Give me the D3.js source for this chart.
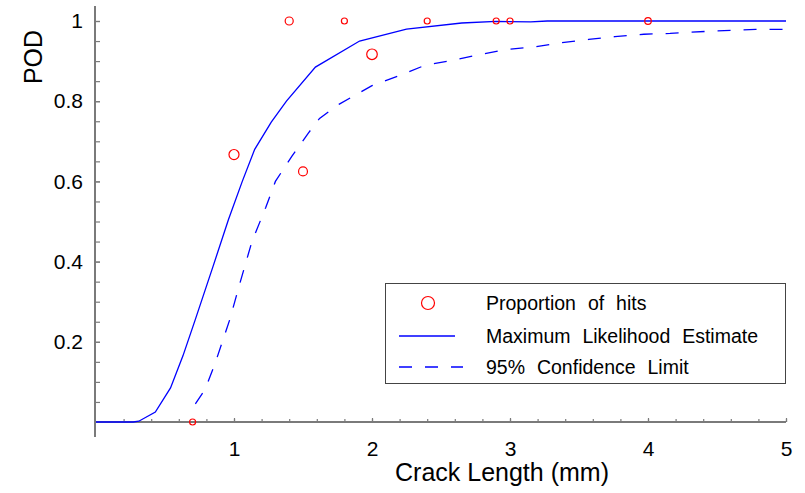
<!DOCTYPE html>
<html>
<head>
<meta charset="utf-8">
<script src="https://cdn.jsdelivr.net/npm/d3@7"></script>
<style>
  body { margin: 0; background: #fff; }
  svg { display: block; font-family: Arial, "Liberation Sans", sans-serif; }
</style>
</head>
<body>
<div id="chart"></div>
<script>
// observed proportion of hits per crack length
var hitLength = [0.7, 1.0, 1.4, 1.5, 1.8, 2.0, 2.4, 2.9, 3.0, 4.0];
var hitProportion = [0, 0.667, 1, 0.625, 1, 0.917, 1, 1, 1, 1];
var hitWeight = [1, 2.8, 1.8, 2.2, 1, 3.1, 1, 1, 1, 1.2];

// maximum likelihood POD curve
var mleLength = [0, 0.27, 0.31, 0.43, 0.54, 0.63, 0.72, 0.85, 0.96, 1.06, 1.15, 1.27, 1.38, 1.59, 1.91, 2.25, 2.65, 2.9, 3.15, 3.27, 5];
var mlePod = [0, 0, 0.002, 0.025, 0.085, 0.165, 0.256, 0.39, 0.505, 0.6, 0.68, 0.748, 0.8, 0.885, 0.95, 0.98, 0.995, 0.999, 0.998, 1, 1];

// 95% lower confidence bound
var confLength = [0.72, 0.79, 0.86, 0.97, 1.04, 1.13, 1.23, 1.3, 1.42, 1.54, 1.62, 1.76, 2.0, 2.2, 2.38, 2.58, 2.78, 2.97, 3.17, 3.37, 3.57, 3.76, 3.97, 4.16, 4.47, 4.78, 5.0];
var confPod = [0.045, 0.081, 0.143, 0.256, 0.343, 0.45, 0.535, 0.6, 0.663, 0.721, 0.757, 0.792, 0.839, 0.864, 0.889, 0.902, 0.916, 0.929, 0.935, 0.946, 0.954, 0.961, 0.967, 0.969, 0.975, 0.979, 0.979];

var xTickValues = [1, 2, 3, 4, 5];
var xTickLabels = ["1", "2", "3", "4", "5"];
var yTickValues = [0.2, 0.4, 0.6, 0.8, 1];
var yTickLabels = ["0.2", "0.4", "0.6", "0.8", "1"];
var legendLabels = ["Proportion of hits", "Maximum Likelihood Estimate", "95% Confidence Limit"];

var width = 805, height = 493;
var axisColor = "#7a7a7a";

var svg = d3.select("#chart").append("svg")
    .attr("width", width)
    .attr("height", height);

var x = d3.scaleLinear().domain([0, 5]).range([96, 786]);
var y = d3.scaleLinear().domain([0, 1]).range([422, 21]);
var r = d3.scaleSqrt().domain([0, 1]).range([0, 3]);

// minor ticks
svg.append("g")
    .attr("transform", "translate(95,0)")
    .call(d3.axisLeft(y).tickValues(d3.range(0.05, 1.001, 0.05)).tickSize(-5).tickFormat(""))
    .call(g => g.select(".domain").remove())
    .call(g => g.selectAll("line").attr("stroke", axisColor).attr("stroke-width", 1.2));

svg.append("g")
    .attr("transform", `translate(0,${y(0)})`)
    .call(d3.axisBottom(x).tickValues(d3.range(0.2, 5.001, 0.2)).tickSize(-3).tickFormat(""))
    .call(g => g.select(".domain").remove())
    .call(g => g.selectAll("line").attr("stroke", axisColor).attr("stroke-width", 1.2));

// labelled ticks
var yAxis = svg.append("g")
    .attr("transform", "translate(95,0)")
    .call(d3.axisLeft(y).tickValues(yTickValues).tickSize(-5).tickPadding(12)
        .tickFormat((d, i) => yTickLabels[i]));
yAxis.select(".domain").remove();
yAxis.selectAll("line").attr("stroke", axisColor).attr("stroke-width", 1.2);
yAxis.selectAll("text").attr("font-size", 21).attr("fill", "#000")
    .attr("font-family", "Arial, 'Liberation Sans', sans-serif");

var xAxis = svg.append("g")
    .attr("transform", `translate(0,${y(0)})`)
    .call(d3.axisBottom(x).tickValues(xTickValues).tickSize(-4).tickPadding(19)
        .tickFormat((d, i) => xTickLabels[i]));
xAxis.select(".domain").remove();
xAxis.selectAll("line").attr("stroke", axisColor).attr("stroke-width", 1.2);
xAxis.selectAll("text").attr("font-size", 21).attr("fill", "#000")
    .attr("font-family", "Arial, 'Liberation Sans', sans-serif");

// axis lines
svg.append("line")
    .attr("x1", 95).attr("x2", 95).attr("y1", 6).attr("y2", 437)
    .attr("stroke", axisColor).attr("stroke-width", 2);
svg.append("line")
    .attr("x1", 95).attr("x2", x(5)).attr("y1", y(0)).attr("y2", y(0))
    .attr("stroke", axisColor).attr("stroke-width", 2);

// axis titles
svg.append("text")
    .attr("x", 502).attr("y", 481)
    .attr("text-anchor", "middle")
    .attr("font-size", 25)
    .text("Crack Length (mm)");

svg.append("text")
    .attr("transform", "translate(42,57) rotate(-90)")
    .attr("text-anchor", "middle")
    .attr("font-size", 25)
    .text("POD");

// curves
var line = d3.line().x(d => x(d[0])).y(d => y(d[1]));

svg.append("path")
    .datum(mleLength.map((v, i) => [v, mlePod[i]]))
    .attr("d", line)
    .attr("fill", "none")
    .attr("stroke", "#0000ff")
    .attr("stroke-width", 1.3);

svg.append("path")
    .datum(confLength.map((v, i) => [v, confPod[i]]))
    .attr("d", line)
    .attr("fill", "none")
    .attr("stroke", "#0000ff")
    .attr("stroke-width", 1.3)
    .attr("stroke-dasharray", "13,13");

// observed points
svg.selectAll(".hit")
    .data(hitLength.map((v, i) => ({ len: v, pod: hitProportion[i], w: hitWeight[i] })))
    .enter()
    .append("circle")
    .attr("class", "hit")
    .attr("cx", d => x(d.len))
    .attr("cy", d => y(d.pod))
    .attr("r", d => r(d.w))
    .attr("fill", "none")
    .attr("stroke", "#ff0000")
    .attr("stroke-width", 1.2);

// legend
var legend = svg.append("g");
legend.append("rect")
    .attr("x", 385.5).attr("y", 283.5)
    .attr("width", 400).attr("height", 100)
    .attr("fill", "#fff")
    .attr("stroke", "#444")
    .attr("stroke-width", 1);

var rowY = [303, 336, 367];
legend.append("circle")
    .attr("cx", 428).attr("cy", rowY[0]).attr("r", 6.5)
    .attr("fill", "none").attr("stroke", "#ff0000").attr("stroke-width", 1.2);
legend.append("line")
    .attr("x1", 399).attr("x2", 455).attr("y1", rowY[1]).attr("y2", rowY[1])
    .attr("stroke", "#0000ff").attr("stroke-width", 1.3);
legend.append("line")
    .attr("x1", 399).attr("x2", 463).attr("y1", rowY[2]).attr("y2", rowY[2])
    .attr("stroke", "#0000ff").attr("stroke-width", 1.3)
    .attr("stroke-dasharray", "13,13");

legend.selectAll(".legend-text")
    .data(legendLabels)
    .enter()
    .append("text")
    .attr("class", "legend-text")
    .attr("x", 486)
    .attr("y", (d, i) => rowY[i])
    .attr("dy", "0.35em")
    .attr("font-size", 19.5)
    .style("word-spacing", "6.5px")
    .text(d => d);
</script>
</body>
</html>
